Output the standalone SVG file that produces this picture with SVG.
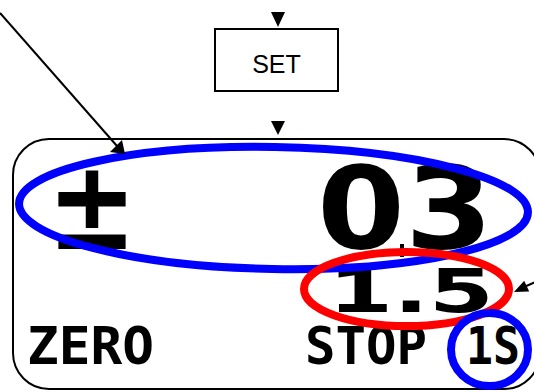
<svg xmlns="http://www.w3.org/2000/svg" width="534" height="392" viewBox="0 0 534 392">
<style>
.ln{stroke:#000;stroke-width:2;fill:none}
.ah{fill:#000;stroke:none}
.lcd{font-family:"DejaVu Sans","Liberation Sans",sans-serif;font-weight:bold;fill:#000}
.lcdm{font-family:"DejaVu Sans Mono","Liberation Mono",monospace;font-weight:bold;fill:#000;font-size:51px}
.bl{fill:none;stroke:#0000ff;stroke-width:8}
.rd{fill:none;stroke:#ff0000;stroke-width:8}
</style>
<rect width="534" height="392" fill="#fff"/>
<g id="display">
  <rect x="13" y="139" width="527" height="250" rx="36" ry="36" class="ln"/>
  <text class="lcd" x="47" y="249" font-size="124" textLength="90" lengthAdjust="spacingAndGlyphs">±</text>
  <text class="lcd" x="317" y="248" font-size="114" textLength="176" lengthAdjust="spacingAndGlyphs">03</text>
  <rect x="400" y="244" width="4" height="13" class="ah"/>
  <rect x="397" y="251" width="10" height="5" class="ah"/>
  <text class="lcd" x="328" y="312" font-size="60" textLength="166" lengthAdjust="spacingAndGlyphs">1.5</text>
  <text class="lcdm" x="27" y="364" textLength="127" lengthAdjust="spacingAndGlyphs">ZERO</text>
  <text class="lcdm" x="305" y="364" textLength="122" lengthAdjust="spacingAndGlyphs">STOP</text>
  <text class="lcdm" x="466" y="364" textLength="54" lengthAdjust="spacingAndGlyphs">1S</text>
</g>
<g id="set">
  <rect x="215" y="29" width="123" height="62" class="ln"/>
  <text x="276.5" y="73" font-family="Liberation Sans, Arial, sans-serif" font-size="25" text-anchor="middle" fill="#000">SET</text>
</g>
<g id="highlights">
  <ellipse cx="273.5" cy="208" rx="254.5" ry="61" class="bl" transform="rotate(1 273.5 208)"/>
  <ellipse cx="406.5" cy="289" rx="102.5" ry="37" class="rd"/>
  <ellipse cx="489.5" cy="349.5" rx="38.5" ry="36.5" class="bl"/>
</g>
<g id="connectors">
  <polygon class="ah" points="271,12 285,12 278,27"/>
  <polygon class="ah" points="271,121 285,121 278,135"/>
  <line x1="0" y1="13" x2="117" y2="146" class="ln"/>
  <polygon class="ah" points="125,154 110,152 122,140"/>
  <line x1="540" y1="280" x2="524" y2="287" class="ln"/>
  <polygon class="ah" points="514,292 524.2,280.7 529.2,291.5"/>
</g>
</svg>
